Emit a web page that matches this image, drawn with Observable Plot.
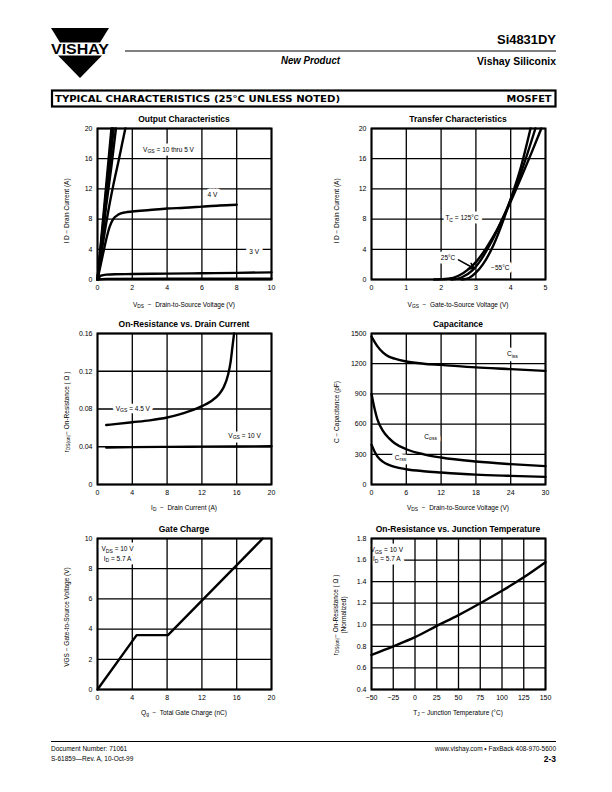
<!DOCTYPE html>
<html><head><meta charset="utf-8">
<script src="https://cdn.jsdelivr.net/npm/d3@7"></script>
<script src="https://cdn.jsdelivr.net/npm/@observablehq/plot@0.6"></script>
<style>
body{margin:0;background:#fff;}
#page{position:relative;width:612px;height:792px;overflow:hidden;font-family:"Liberation Sans",Arial,sans-serif;color:#000;background:#fff;}
.abs{position:absolute;white-space:nowrap;line-height:1;}
.title{font-weight:bold;font-size:8.5px;transform:translate(-50%,-50%);}
.xlab{font-size:6.5px;transform:translate(-50%,-50%);}
.ylab{font-size:6.5px;transform:translate(-50%,-50%) rotate(-90deg);text-align:center;line-height:1.25;}
sub{font-size:0.75em;vertical-align:-0.3em;line-height:0;}
</style></head><body><div id="page"></div>
<script>
// ---------- DATA ----------
// Output Characteristics: [VDS (V), ID (A)]
const outVgs10 = [[0,0],[0.4,10],[0.8,20]];
const outVgs8  = [[0,0],[0.45,10.4],[0.85,20]];
const outVgs7  = [[0,0],[0.5,10.6],[0.93,20]];
const outVgs6  = [[0,0],[0.5,9.8],[0.8,15],[1.06,20]];
const outVgs5  = [[0,0],[0.3,4.6],[0.6,8.8],[0.9,12.4],[1.2,15.6],[1.4,17.8],[1.6,20]];
const outVgs4  = [[0,0],[0.3,3.2],[0.5,5.3],[0.7,7],[0.9,8],[1.2,8.6],[1.6,8.9],[2,9.0],[3,9.2],[4,9.4],[5,9.5],[6,9.65],[7,9.8],[8,9.9]];
const outVgs3  = [[0,0],[0.2,0.5],[0.5,0.65],[1,0.7],[2,0.72],[4,0.78],[6,0.83],[8,0.88],[10,0.95]];
const outVgs2  = [[0,0],[0.5,0.08],[5,0.1],[10,0.12]];
const outXTicks = [0,2,4,6,8,10];
const outYTicks = [0,4,8,12,16,20];

// Transfer Characteristics: [VGS (V), ID (A)]
const trT125 = [[1.8,0],[2.2,0.1],[2.5,0.5],[2.8,1.4],[3.0,2.3],[3.3,4.2],[3.6,6.5],[3.95,9.8],[4.3,13.5],[4.6,16.8],[4.88,20]];
const trT25  = [[2.3,0],[2.6,0.3],[2.9,1.2],[3.1,2.3],[3.4,4.6],[3.7,7.4],[3.95,10],[4.3,14.2],[4.71,20]];
const trTm55 = [[2.6,0],[2.8,0.2],[3.0,0.9],[3.2,2],[3.5,4.5],[3.8,8],[3.95,10],[4.3,15],[4.57,20]];
const trXTicks = [0,1,2,3,4,5];
const trYTicks = [0,4,8,12,16,20];

// On-Resistance vs Drain Current: [ID (A), rDS(on) (ohm)]
const ronVgs45 = [[1,0.063],[2,0.064],[4,0.066],[6,0.068],[8,0.071],[10,0.076],[11,0.079],[12,0.083],[13,0.088],[14,0.096],[14.5,0.103],[15,0.116],[15.3,0.13],[15.5,0.145],[15.7,0.16]];
const ronVgs10 = [[1,0.0392],[4,0.0396],[8,0.0399],[12,0.0401],[16,0.0403],[20,0.0405]];
const ronXTicks = [0,4,8,12,16,20];
const ronYTicks = [0,0.04,0.08,0.12,0.16];

// Capacitance: [VDS (V), C (pF)]
const capCiss = [[0,1470],[0.5,1420],[1,1375],[2,1310],[3,1270],[4,1250],[6,1222],[9,1200],[12,1188],[18,1163],[24,1146],[30,1128]];
const capCoss = [[0,900],[0.5,760],[1,650],[2,530],[3,460],[4,410],[6,350],[9,300],[12,268],[18,228],[24,202],[30,182]];
const capCrss = [[0,395],[0.5,330],[1,280],[2,225],[3,195],[4,175],[6,152],[9,132],[12,119],[18,98],[24,86],[30,76]];
const capXTicks = [0,6,12,18,24,30];
const capYTicks = [0,300,600,900,1200,1500];

// Gate Charge: [Qg (nC), VGS (V)]
const gateCharge = [[0,0],[4.5,3.6],[8.1,3.6],[19,10]];
const gcXTicks = [0,4,8,12,16,20];
const gcYTicks = [0,2,4,6,8,10];

// On-Resistance vs Junction Temperature: [TJ (C), normalized rDS(on)]
const rtCurve = [[-50,0.72],[-25,0.80],[0,0.885],[25,0.99],[50,1.09],[75,1.2],[100,1.315],[125,1.44],[150,1.58]];
const rtXTicks = [-50,-25,0,25,50,75,100,125,150];
const rtYTicks = [0.4,0.6,0.8,1.0,1.2,1.4,1.6,1.8];

// Annotation labels: [x, y, text, anchor]
const outLabels = [[4.08,17.2,"V_{GS} = 10 thru 5 V","middle"],[6.6,11.2,"4 V","middle"],[9.0,3.6,"3 V","middle"]];
const trLabels  = [[2.6,8.1,"T_{C} = 125°C","middle"],[2.2,2.9,"25°C","middle"],[3.7,1.5,"−55°C","middle"]];
const trArrow   = [[2.5,2.6,2.95,1.45]];
const ronLabels = [[4.06,0.0805,"V_{GS} = 4.5 V","middle"],[16.9,0.0516,"V_{GS} = 10 V","middle"]];
const capLabels = [[24.3,1295,"C_{iss}","middle"],[10.2,477,"C_{oss}","middle"],[5.0,268,"C_{rss}","middle"]];
const gcLabels  = [[2.3,9.3,"V_{DS} = 10 V","start"],[2.3,8.68,"I_{D} = 5.7 A","start"]];
const rtLabels  = [[-32.4,1.695,"V_{GS} = 10 V","start"],[-32.4,1.61,"I_{D} = 5.7 A","start"]];

// ---------- DRAWING ----------
const page = document.getElementById("page");
const FW = 174, FH = 151, ML = 35, MR = 12, MT = 12, MB = 18;
const minus = d => d < 0 ? "\u2212" + (-d) : String(d);

function applySubs(svg) {
  const NS = "http://www.w3.org/2000/svg";
  svg.querySelectorAll("text").forEach(el => {
    const s = el.textContent;
    if (!s.includes("_{")) return;
    while (el.firstChild) el.removeChild(el.firstChild);
    const re = /_\{([^}]*)\}/g; let last = 0, m, shifted = false;
    const add = (txt, sub) => {
      const t = document.createElementNS(NS, "tspan");
      t.textContent = txt;
      if (sub) { t.setAttribute("dy", "1.6"); t.setAttribute("font-size", "0.78em"); shifted = true; }
      else if (shifted) { t.setAttribute("dy", "-1.6"); shifted = false; }
      el.appendChild(t);
    };
    while ((m = re.exec(s))) {
      if (m.index > last) add(s.slice(last, m.index), false);
      add(m[1], true);
      last = m.index + m[0].length;
    }
    if (last < s.length) add(s.slice(last), false);
  });
}

function chart({left, top, xd, yd, xt, yt, xf, yf, lines, labels, arrows, curve}) {
  const marks = [
    Plot.gridX(xt, {stroke: "black", strokeOpacity: 1, strokeWidth: 1.3}),
    Plot.gridY(yt, {stroke: "black", strokeOpacity: 1, strokeWidth: 1.3}),
    Plot.axisX({ticks: xt, tickSize: 0, tickPadding: 6, tickFormat: xf || minus, fontSize: 7}),
    Plot.axisY({ticks: yt, tickSize: 0, tickPadding: 5, tickFormat: yf || minus, fontSize: 7}),
    ...lines.map(pts => Plot.line(pts, {x: d => d[0], y: d => d[1], stroke: "black", strokeWidth: 2.4, curve: curve || "monotone-x"})),
  ];
  if (labels) {
    const opts = {x: d => d[0], y: d => d[1], text: d => d[2], textAnchor: d => d[3], fontSize: 6.5};
    marks.push(Plot.text(labels, {...opts, fill: "white", stroke: "white", strokeWidth: 7}));
    marks.push(Plot.text(labels, {...opts, fill: "black"}));
  }
  if (arrows) marks.push(Plot.arrow(arrows, {x1: d => d[0], y1: d => d[1], x2: d => d[2], y2: d => d[3], stroke: "black", strokeWidth: 1.6, headLength: 6}));
  marks.push(Plot.frame({stroke: "black", strokeWidth: 2}));
  const svg = Plot.plot({
    width: FW + ML + MR, height: FH + MT + MB,
    marginLeft: ML, marginRight: MR, marginTop: MT, marginBottom: MB,
    x: {domain: xd, label: null}, y: {domain: yd, label: null},
    style: {fontFamily: "'Liberation Sans', Arial, sans-serif", fontSize: "7px", color: "black", background: "none", overflow: "visible"},
    marks
  });
  applySubs(svg);
  svg.style.position = "absolute";
  svg.style.left = (left - ML) + "px";
  svg.style.top = (top - MT) + "px";
  page.appendChild(svg);
}

chart({left: 97, top: 128, xd: [0,10], yd: [0,20], xt: outXTicks, yt: outYTicks,
  lines: [outVgs10, outVgs8, outVgs7, outVgs6, outVgs5, outVgs4, outVgs3, outVgs2], labels: outLabels});
chart({left: 371, top: 128, xd: [0,5], yd: [0,20], xt: trXTicks, yt: trYTicks,
  lines: [trT125, trT25, trTm55], labels: trLabels, arrows: trArrow});
chart({left: 97, top: 333, xd: [0,20], yd: [0,0.16], xt: ronXTicks, yt: ronYTicks,
  yf: d => d === 0 ? "0" : d.toFixed(2), lines: [ronVgs45, ronVgs10], labels: ronLabels});
chart({left: 371, top: 333, xd: [0,30], yd: [0,1500], xt: capXTicks, yt: capYTicks,
  lines: [capCiss, capCoss, capCrss], labels: capLabels});
chart({left: 97, top: 538, xd: [0,20], yd: [0,10], xt: gcXTicks, yt: gcYTicks,
  lines: [gateCharge], labels: gcLabels, curve: "linear"});
chart({left: 371, top: 538, xd: [-50,150], yd: [0.4,1.8], xt: rtXTicks, yt: rtYTicks,
  yf: d => d.toFixed(1), lines: [rtCurve], labels: rtLabels});

// ---------- TEXT (titles, axis labels) ----------
function html(cls, x, y, content) {
  const d = document.createElement("div");
  d.className = "abs " + cls;
  d.style.left = x + "px"; d.style.top = y + "px";
  d.innerHTML = content;
  page.appendChild(d);
}
html("title", 184, 119, "Output Characteristics");
html("title", 458, 119, "Transfer Characteristics");
html("title", 184, 323.5, "On-Resistance vs. Drain Current");
html("title", 458, 323.5, "Capacitance");
html("title", 184, 529, "Gate Charge");
html("title", 458, 529, "On-Resistance vs. Junction Temperature");

html("xlab", 184, 305, "V<sub>DS</sub> &nbsp;&minus;&nbsp; Drain-to-Source Voltage (V)");
html("xlab", 458, 305, "V<sub>GS</sub> &nbsp;&minus;&nbsp; Gate-to-Source Voltage (V)");
html("xlab", 184, 507.5, "I<sub>D</sub> &nbsp;&minus;&nbsp; Drain Current (A)");
html("xlab", 458, 507.5, "V<sub>DS</sub> &nbsp;&minus;&nbsp; Drain-to-Source Voltage (V)");
html("xlab", 184, 712.5, "Q<sub>g</sub> &nbsp;&minus;&nbsp; Total Gate Charge (nC)");
html("xlab", 458, 712.5, "T<sub>J</sub> &minus; Junction Temperature (°C)");

html("ylab", 67, 211, "I D &minus; Drain Current (A)");
html("ylab", 337, 211, "I D &minus; Drain Current (A)");
html("ylab", 67, 412, "r<sub>DS(on)</sub>&minus; On-Resistance ( &Omega; )");
html("ylab", 337, 412, "C &minus; Capacitance (pF)");
html("ylab", 67, 617, "VGS &minus; Gate-to-Source Voltage (V)");
html("ylab", 340, 615, "r<sub>DS(on)</sub>&minus; On-Resistance ( &Omega; )<br>(Normalized)");

// ---------- HEADER / FOOTER ----------
const deco = document.createElementNS("http://www.w3.org/2000/svg", "svg");
deco.setAttribute("width", 612); deco.setAttribute("height", 792);
deco.style.position = "absolute"; deco.style.left = "0"; deco.style.top = "0";
deco.innerHTML = `
<polygon points="51,28 109,28 100,42.5 60,42.5" fill="#000"/>
<polygon points="58,55.5 102,55.5 80,78" fill="#000"/>
<text x="51" y="54" font-family="Liberation Sans, Arial" font-weight="bold" font-size="14" textLength="58" lengthAdjust="spacingAndGlyphs">VISHAY</text>
<line x1="125" y1="51" x2="556" y2="51" stroke="#000" stroke-width="1"/>
<text x="556" y="43.5" text-anchor="end" font-family="Liberation Sans, Arial" font-weight="bold" font-size="12.5" textLength="59" lengthAdjust="spacingAndGlyphs">Si4831DY</text>
<text x="556" y="64.5" text-anchor="end" font-family="Liberation Sans, Arial" font-weight="bold" font-size="10.5" textLength="79" lengthAdjust="spacingAndGlyphs">Vishay Siliconix</text>
<text x="281" y="64" font-family="Liberation Sans, Arial" font-weight="bold" font-style="italic" font-size="10" textLength="59" lengthAdjust="spacingAndGlyphs">New Product</text>
<rect x="52" y="90.5" width="503.5" height="16" fill="none" stroke="#000" stroke-width="2.2"/>
<text x="55" y="101.5" font-family="DejaVu Sans, Liberation Sans" font-weight="bold" font-size="8.3" textLength="285" lengthAdjust="spacingAndGlyphs">TYPICAL CHARACTERISTICS (25°C UNLESS NOTED)</text>
<text x="551.5" y="101.5" text-anchor="end" font-family="DejaVu Sans, Liberation Sans" font-weight="bold" font-size="8.3" textLength="45" lengthAdjust="spacingAndGlyphs">MOSFET</text>
<line x1="51" y1="741.5" x2="556" y2="741.5" stroke="#000" stroke-width="1"/>
<text x="51" y="750.5" font-family="Liberation Sans, Arial" font-size="6.5">Document Number:  71061</text>
<text x="51" y="760.5" font-family="Liberation Sans, Arial" font-size="6.5">S-61859—Rev. A, 10-Oct-99</text>
<text x="556" y="750.5" text-anchor="end" font-family="Liberation Sans, Arial" font-size="6.5">www.vishay.com • FaxBack 408-970-5600</text>
<text x="556" y="761.5" text-anchor="end" font-family="Liberation Sans, Arial" font-weight="bold" font-size="8.5">2-3</text>
`;
page.insertBefore(deco, page.firstChild);
</script>
</body></html>
